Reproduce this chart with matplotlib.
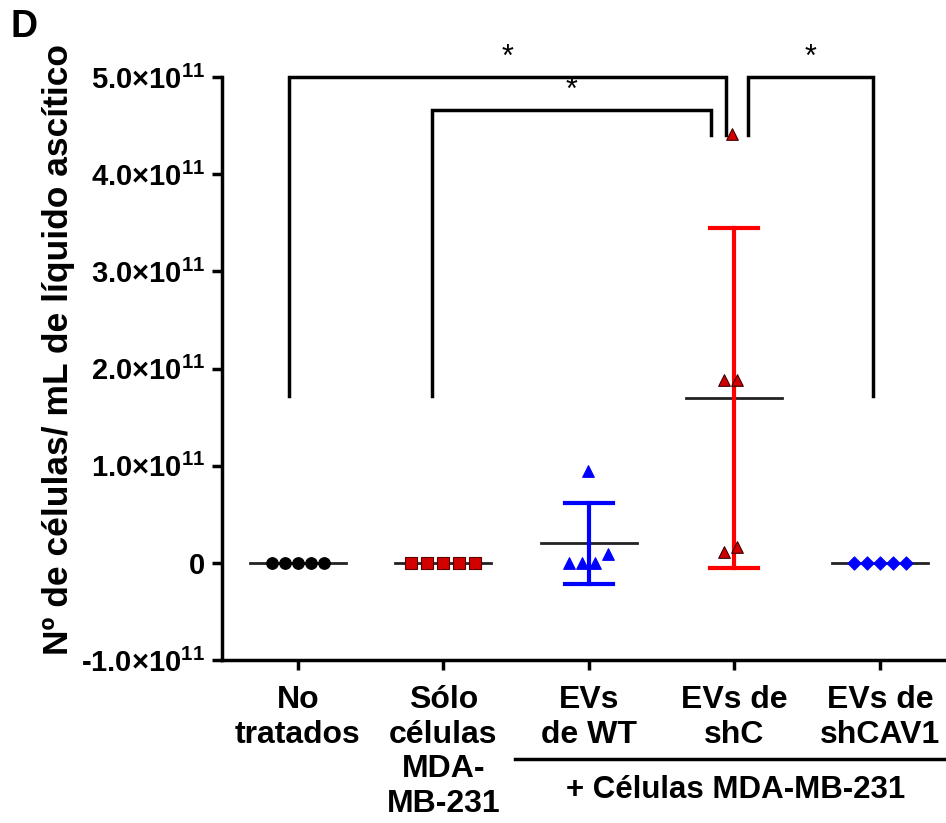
import matplotlib
matplotlib.use("Agg")
import matplotlib.pyplot as plt
import numpy as np

plt.rcParams['font.family'] = ['Liberation Sans', 'DejaVu Sans']
plt.rcParams['font.weight'] = 'bold'
plt.rcParams['mathtext.fontset'] = 'custom'
plt.rcParams['mathtext.rm'] = 'Liberation Sans:bold'
plt.rcParams['mathtext.bf'] = 'Liberation Sans:bold'

# grupos
groups = ["No\ntratados", "Sólo\ncélulas\nMDA-\nMB-231", "EVs\nde WT", "EVs de\nshC", "EVs de\nshCAV1"]

# valores individuales (x1e11) y desplazamiento horizontal de cada punto
values = [
    [0, 0, 0, 0, 0],
    [0, 0, 0, 0, 0],
    [0.95, 0.0, 0.0, 0.0, 0.09],
    [4.41, 1.88, 1.88, 0.11, 0.16],
    [0, 0, 0, 0, 0],
]
offsets = [
    [-0.18, -0.09, 0.0, 0.09, 0.18],
    [-0.22, -0.11, 0.0, 0.11, 0.22],
    [-0.01, -0.14, -0.05, 0.04, 0.13],
    [-0.02, -0.07, 0.02, -0.07, 0.02],
    [-0.18, -0.09, 0.0, 0.09, 0.18],
]
means = [0, 0, 0.20, 1.70, 0]
sds = [0, 0, 0.42, 1.75, 0]

markers = ['o', 's', '^', '^', 'D']
face_colors = ['black', '#d40000', 'blue', '#d40000', 'blue']
edge_colors = ['black', '#5a0000', 'blue', '#3a0000', 'blue']
err_colors = [None, None, 'blue', 'red', None]

# comparaciones (*)
comparisons = [(1, 4, -0.06, -0.06, 5.0, 1.72, 4.40), (2, 4, -0.08, -0.16, 4.66, 1.72, 4.40),
               (4, 5, 0.09, -0.05, 5.0, 4.40, 1.72)]

fig = plt.figure(figsize=(9.46, 8.23), dpi=100)
ax = fig.add_axes([222 / 946, 1 - 660 / 823, (944 - 222) / 946, (660 - 77) / 823])

x = np.arange(1, len(groups) + 1)
for i in range(len(groups)):
    xi = x[i] + np.array(offsets[i])
    yi = np.array(values[i]) * 1e11
    ax.scatter(xi, yi, marker=markers[i], s=70 if markers[i] != 'D' else 45,
               facecolor=face_colors[i], edgecolor=edge_colors[i], linewidths=0.8, zorder=3)
    ax.plot([x[i] - 0.33, x[i] + 0.33], [means[i] * 1e11] * 2, color='#222222', lw=2, zorder=2)
    if sds[i] > 0:
        c = err_colors[i]
        lo = (means[i] - sds[i]) * 1e11
        hi = (means[i] + sds[i]) * 1e11
        ax.plot([x[i], x[i]], [lo, hi], color=c, lw=3, zorder=2)
        ax.plot([x[i] - 0.165, x[i] + 0.165], [hi, hi], color=c, lw=3, zorder=2)
        ax.plot([x[i] - 0.165, x[i] + 0.165], [lo, lo], color=c, lw=3, zorder=2)

for (a, b, oa, ob, top, ya, yb) in comparisons:
    xa = a + oa
    xb = b + ob
    ax.plot([xa, xa, xb, xb], [ya * 1e11, top * 1e11, top * 1e11, yb * 1e11],
            color='black', lw=2.5, clip_on=False, solid_joinstyle='miter')
    ax.text((xa + xb) / 2, top * 1e11 + 0.04e11, "*", ha='center', va='bottom',
            fontsize=22, fontweight='normal')

ax.set_xlim(0.478, 5.44)
ax.set_ylim(-1e11, 5e11)
yt = [-1, 0, 1, 2, 3, 4, 5]
ax.set_yticks([v * 1e11 for v in yt])
ax.set_yticklabels(["-1.0×10$^{11}$" if v == -1 else ("0" if v == 0 else "%d.0×10$^{11}$" % v)
                    for v in yt], fontsize=21, fontweight='bold')
ax.set_xticks(x)
ax.set_xticklabels(groups, fontsize=23, fontweight='bold', linespacing=1.2)
ax.tick_params(axis='both', width=2.5, length=7, direction='out')
ax.tick_params(axis='x', pad=11)
ax.tick_params(axis='y', pad=5)
ax.spines['top'].set_visible(False)
ax.spines['right'].set_visible(False)
ax.spines['left'].set_linewidth(2.5)
ax.spines['bottom'].set_linewidth(2.5)

ax.set_ylabel("Nº de células/ mL de líquido ascítico", fontsize=25.5, fontweight='bold')
ax.yaxis.set_label_coords(-0.203, 0.532)

# línea de grupo + Células
fig.add_artist(plt.Line2D([515 / 946, 946 / 946], [1 - 759 / 823] * 2, color='black', lw=2.5))
fig.text(736 / 946, 1 - 790 / 823, "+ Células MDA-MB-231", ha='center', va='center',
         fontsize=22.5, fontweight='bold')
fig.text(10 / 946, 1 - 27 / 823, "D", ha='left', va='center', fontsize=27, fontweight='bold')

fig.savefig("out.png", dpi=100)
